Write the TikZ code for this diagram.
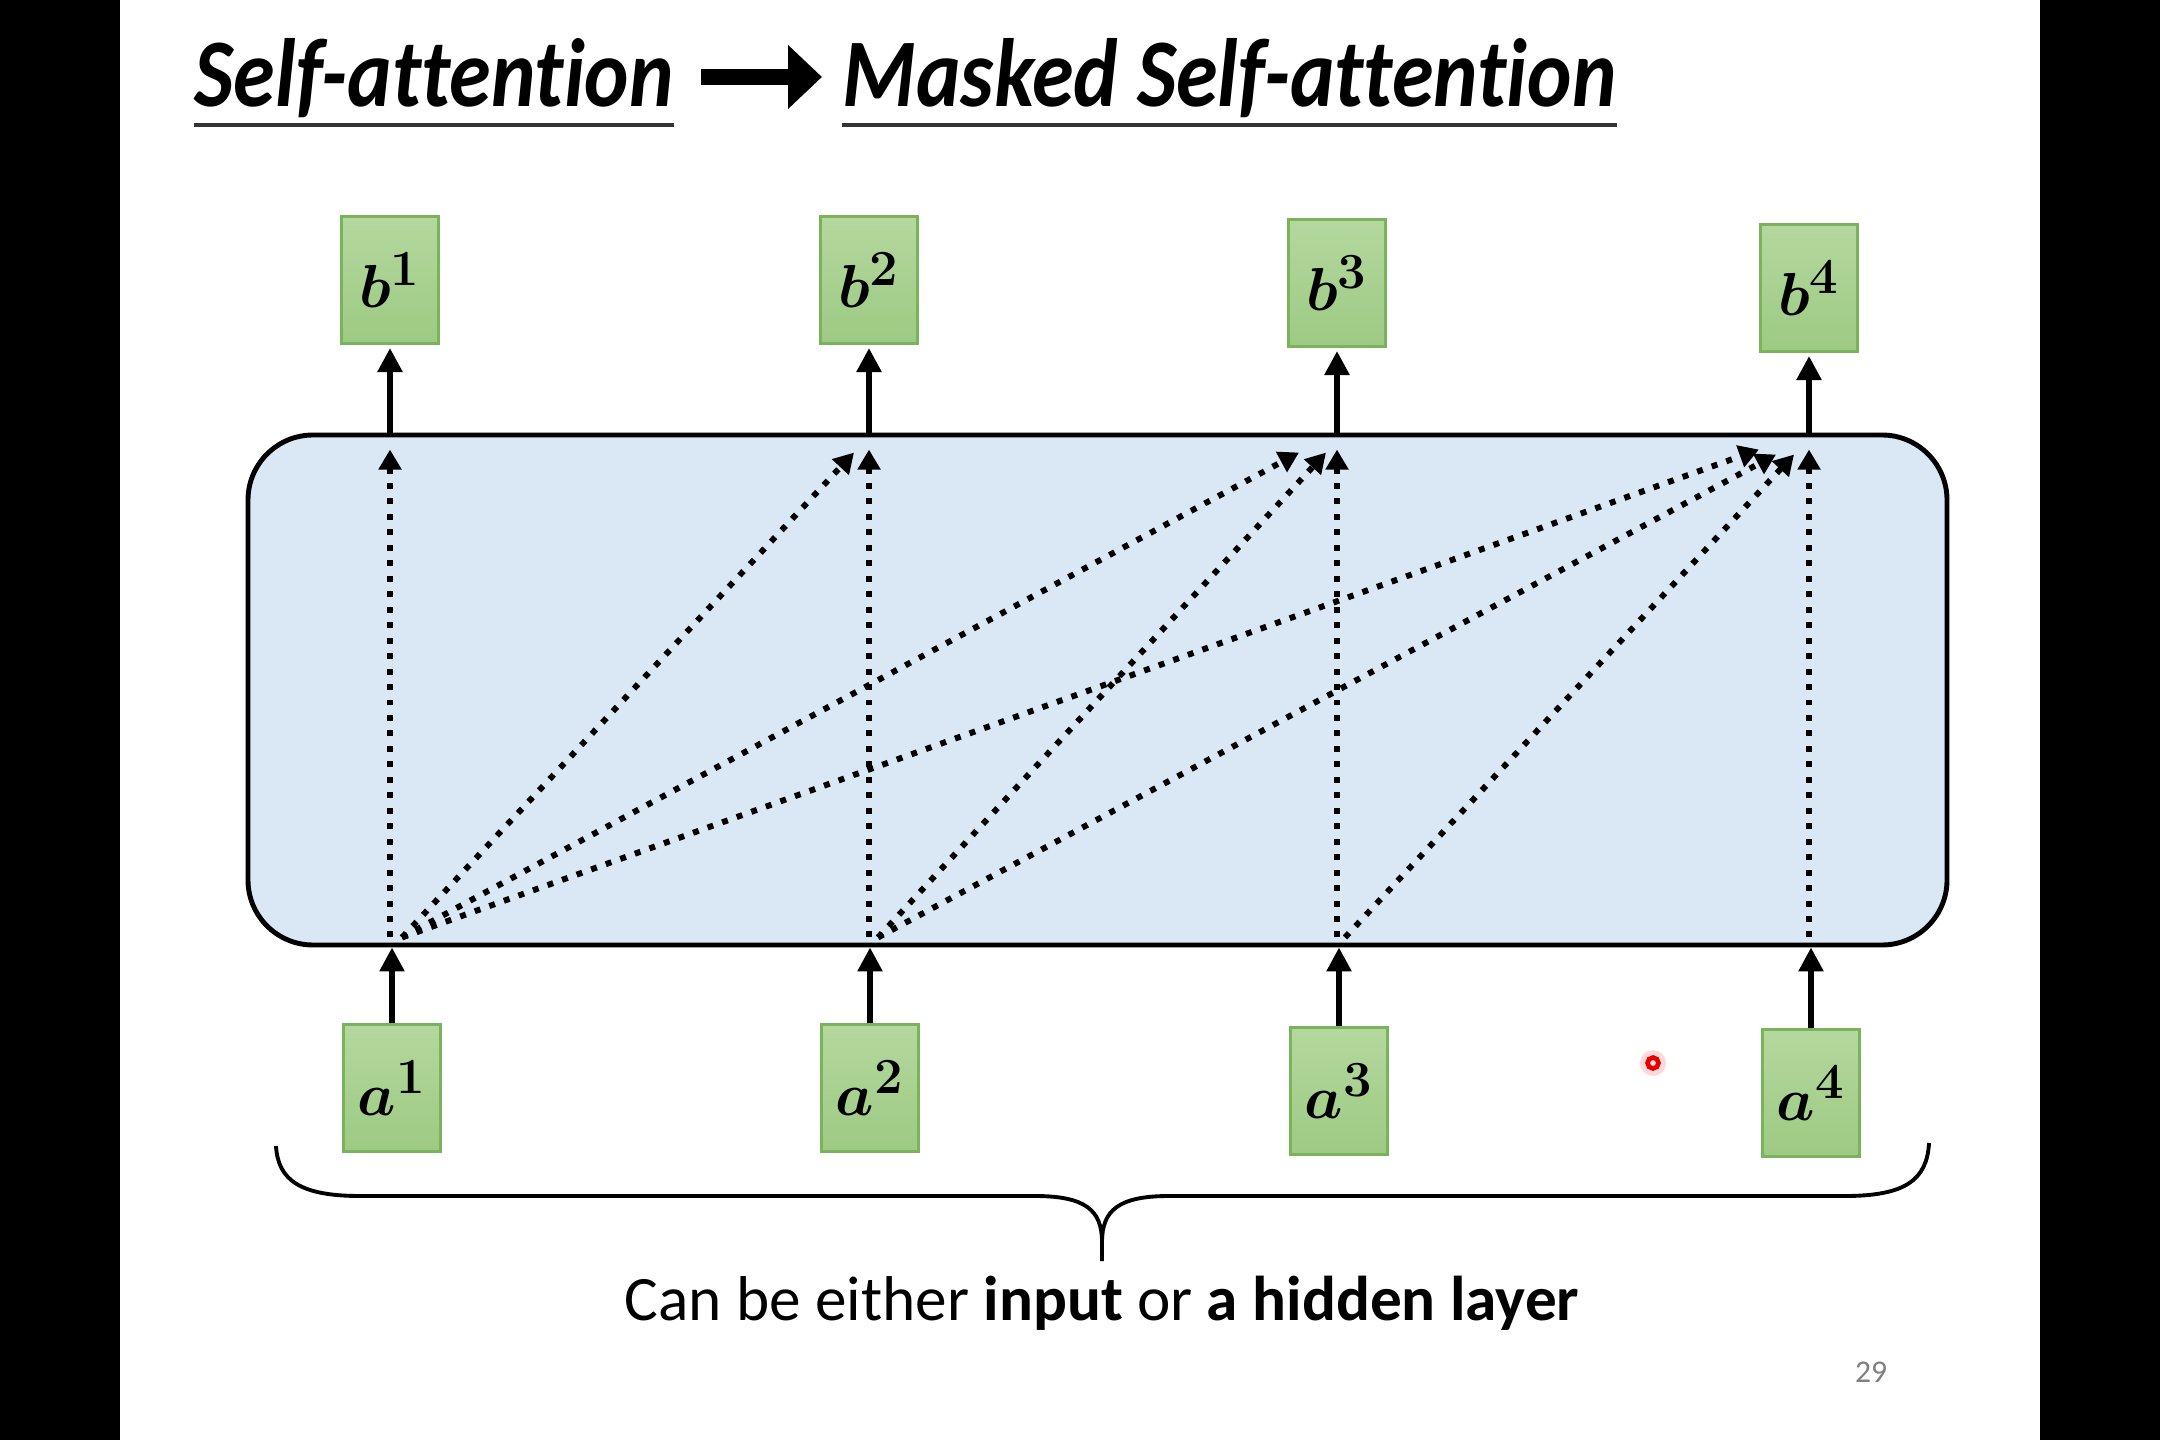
\documentclass[tikz,border=0pt]{standalone}
\usepackage{fontspec}
\setmainfont[Ligatures={NoCommon}]{Carlito}
\usepackage{amsmath}
\usetikzlibrary{arrows.meta,calc}

\definecolor{vectop}{HTML}{B4D89E}
\definecolor{vecbot}{HTML}{9DCA83}
\definecolor{vecedge}{HTML}{7AB35C}
\definecolor{layerblue}{HTML}{DAE8F6}
\definecolor{pagegray}{HTML}{7F7F7F}

\tikzset{
  vec/.style={draw=vecedge, line width=0.6pt, top color=vectop, bottom color=vecbot,
    minimum width=0.97cm, minimum height=1.27cm, inner sep=0pt,
    font=\fontsize{19}{22}\selectfont\boldmath},
  feed/.style={line width=1.6pt, -{Triangle[length=0.24cm,width=0.24cm]}},
  attn/.style={line width=1.7pt, dash pattern=on 1.7pt off 2.7pt,
    -{Triangle[length=0.2cm,width=0.22cm]}},
  heading/.style={anchor=base west, inner sep=0pt,
    font=\fontsize{24}{29}\selectfont\bfseries\itshape}
}

\begin{document}
\begin{tikzpicture}
\useasboundingbox (0,0) rectangle (21.6,14.4);
\fill[black] (0,0) rectangle (1.2,14.4);
\fill[black] (20.4,0) rectangle (21.6,14.4);
\fill[white] (1.2,0) rectangle (20.4,14.4);

% title
\node[heading] (t1) at (1.94,13.33) {\scalebox{1}[1.15]{Self-attention}};
\node[heading] (t2) at (8.42,13.33) {\scalebox{1}[1.15]{Masked Self-attention}};
\draw[line width=0.9pt, black!80] ([yshift=-0.18cm]t1.base west) -- ([yshift=-0.18cm]t1.base east);
\draw[line width=0.9pt, black!80] ([yshift=-0.18cm]t2.base west) -- ([yshift=-0.18cm]t2.base east);
\draw[line width=4.6pt, -{Triangle[length=0.34cm,width=0.62cm]}]
  ([xshift=0.27cm,yshift=0.3cm]t1.base east) -- ([xshift=-0.2cm,yshift=0.3cm]t2.base west);

% the layer
\node[draw, line width=1.4pt, fill=layerblue, rounded corners=0.65cm,
  minimum width=16.99cm, minimum height=5.1cm] (layer) at (10.975,7.5) {};

% outputs and inputs
\node[vec] (b1) at (3.90,11.60) {$b^1$};
\node[vec] (b2) at (8.69,11.60) {$b^2$};
\node[vec] (b3) at (13.37,11.57) {$b^3$};
\node[vec] (b4) at (18.09,11.52) {$b^4$};
\node[vec] (a1) at (3.92,3.52) {$a^1$};
\node[vec] (a2) at (8.70,3.52) {$a^2$};
\node[vec] (a3) at (13.39,3.49) {$a^3$};
\node[vec] (a4) at (18.11,3.47) {$a^4$};

\draw[feed, shorten >=1pt] (b1 |- layer.north) -- (b1);
\draw[feed, shorten >=1pt] (b2 |- layer.north) -- (b2);
\draw[feed, shorten >=1pt] (b3 |- layer.north) -- (b3);
\draw[feed, shorten >=1pt] (b4 |- layer.north) -- (b4);
\draw[feed] (a1) -- (a1 |- layer.south);
\draw[feed] (a2) -- (a2 |- layer.south);
\draw[feed] (a3) -- (a3 |- layer.south);
\draw[feed] (a4) -- (a4 |- layer.south);

% masked attention
\coordinate (src1) at ($(a1 |- layer.south)+(0.1,0.1)$);
\coordinate (src2) at ($(a2 |- layer.south)+(0.08,0.1)$);
\coordinate (src3) at ($(a3 |- layer.south)+(0.06,0.1)$);
\coordinate (top1) at ($(b1 |- layer.north)+(0,-0.17)$);
\coordinate (top2) at ($(b2 |- layer.north)+(0,-0.17)$);
\coordinate (top3) at ($(b3 |- layer.north)+(0,-0.17)$);
\coordinate (top4) at ($(b4 |- layer.north)+(0,-0.17)$);

\draw[attn] ($(b1 |- layer.south)+(0,0.1)$) -- (top1);
\draw[attn] ($(b2 |- layer.south)+(0,0.1)$) -- (top2);
\draw[attn] ($(b3 |- layer.south)+(0,0.1)$) -- (top3);
\draw[attn] ($(b4 |- layer.south)+(0,0.1)$) -- (top4);
\draw[attn] (src1) -- ($(top2)+(-0.15,-0.03)$);
\draw[attn] (src1) -- ($(top3)+(-0.38,-0.03)$);
\draw[attn] (src2) -- ($(top3)+(-0.11,-0.03)$);
\draw[attn] (src1) -- ($(top4)+(-0.5,0)$);
\draw[attn] (src2) -- ($(top4)+(-0.33,-0.05)$);
\draw[attn] (src3) -- ($(top4)+(-0.15,-0.05)$);

% brace and note
\draw[line width=1.1pt] (2.76,2.94) .. controls (2.78,2.6) and (3.0,2.44) .. (3.6,2.44)
  -- (10.35,2.44) .. controls (10.85,2.44) and (11.02,2.3) .. (11.02,1.98) -- (11.02,1.79);
\draw[line width=1.1pt] (19.29,2.97) .. controls (19.27,2.6) and (19.05,2.44) .. (18.45,2.44)
  -- (11.69,2.44) .. controls (11.19,2.44) and (11.02,2.3) .. (11.02,1.98);
\node[anchor=base, font=\fontsize{18}{22}\selectfont] (note) at (11.02,1.20)
  {Can be either \textbf{input} or \textbf{a hidden layer}};
\node[anchor=base, font=\fontsize{9}{11}\selectfont, text=pagegray] (page) at (18.71,0.58) {29};

% pointer
\fill[red, opacity=0.15] (16.53,3.77) circle (0.13);
\draw[red!90!black, line width=1.3pt] (16.53,3.77) circle (0.055);
\end{tikzpicture}
\end{document}
